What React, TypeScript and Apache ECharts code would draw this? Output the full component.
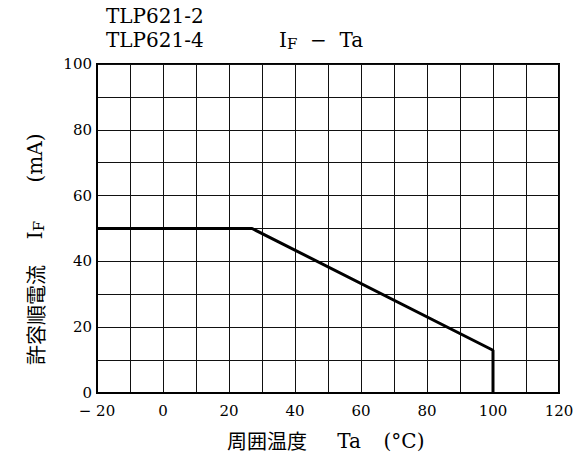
import React, { useEffect, useRef } from 'react';
import * as echarts from 'echarts';

const tempPoints = [-20, 27, 100, 100];
const currentPoints = [50, 50, 13, 0];
const titleLines = ['TLP621-2', 'TLP621-4'];
const xRange = [-20, 120];
const yRange = [0, 100];
const gridStep = 10;
const labelStep = 20;

const SERIF = '"DejaVu Serif", "Liberation Serif", serif';
const CJK = '"Noto Sans CJK JP", "Noto Sans", sans-serif';

export default function App() {
  const ref = useRef<HTMLDivElement>(null);
  useEffect(() => {
    if (!ref.current) return;
    const chart = echarts.init(ref.current, null, { renderer: 'svg' });
    const fmt = (v: number) => {
      if (v % labelStep !== 0) return '';
      return v < 0 ? '\u2212 ' + Math.abs(v) : String(v);
    };
    chart.setOption({
      animation: false,
      backgroundColor: '#fff',
      grid: {
        left: 97, top: 64, width: 462, height: 329,
        show: true, borderColor: '#000', borderWidth: 2, backgroundColor: 'transparent',
      },
      xAxis: {
        type: 'value', min: xRange[0], max: xRange[1], interval: gridStep,
        axisLine: { show: true, onZero: false, lineStyle: { color: '#000', width: 2 } },
        axisTick: { show: false },
        axisLabel: { formatter: fmt, color: '#000', fontFamily: SERIF, fontSize: 15, margin: 10 },
        splitLine: { show: true, lineStyle: { color: '#111', width: 1 } },
      },
      yAxis: {
        type: 'value', min: yRange[0], max: yRange[1], interval: gridStep,
        axisLine: { show: true, onZero: false, lineStyle: { color: '#000', width: 2 } },
        axisTick: { show: false },
        axisLabel: { formatter: fmt, color: '#000', fontFamily: SERIF, fontSize: 15, margin: 5 },
        splitLine: { show: true, lineStyle: { color: '#111', width: 1 } },
      },
      series: [{
        type: 'line',
        data: tempPoints.map((t, i) => [t, currentPoints[i]]),
        showSymbol: false,
        lineStyle: { color: '#000', width: 3 },
        z: 5,
      }],
      graphic: [
        { type: 'text', left: 106, top: 6, style: { text: titleLines[0], font: `20px ${SERIF}`, fill: '#000' } },
        { type: 'text', left: 106, top: 30, style: { text: titleLines[1], font: `20px ${SERIF}`, fill: '#000' } },
        {
          type: 'text', left: 279, top: 30,
          style: {
            text: 'I{sub|F}  \u2212  Ta', font: `20px ${SERIF}`, fill: '#000',
            rich: { sub: { fontSize: 15, fontFamily: SERIF, padding: [8, 0, 0, 0], fill: '#000' } },
          },
        },
        // y-axis label pieces (rotated)
        { type: 'text', x: 35, y: 315, rotation: Math.PI / 2, style: { text: '許容順電流', font: `20px ${CJK}`, fill: '#000', align: 'center', verticalAlign: 'middle' } },
        {
          type: 'text', x: 35, y: 230, rotation: Math.PI / 2,
          style: {
            text: 'I{sub|F}', font: `20px ${SERIF}`, fill: '#000', align: 'center', verticalAlign: 'middle',
            rich: { sub: { fontSize: 15, fontFamily: SERIF, padding: [8, 0, 0, 0], fill: '#000' } },
          },
        },
        { type: 'text', x: 35, y: 158, rotation: Math.PI / 2, style: { text: '(mA)', font: `20px ${SERIF}`, fill: '#000', align: 'center', verticalAlign: 'middle' } },
        // x-axis label pieces
        { type: 'text', x: 267, y: 440, style: { text: '周囲温度', font: `20px ${CJK}`, fill: '#000', align: 'center', verticalAlign: 'middle' } },
        { type: 'text', x: 349, y: 441, style: { text: 'Ta', font: `20px ${SERIF}`, fill: '#000', align: 'center', verticalAlign: 'middle' } },
        { type: 'text', x: 404, y: 441, style: { text: '(\u00b0C)', font: `20px ${SERIF}`, fill: '#000', align: 'center', verticalAlign: 'middle' } },
      ],
    });
    return () => chart.dispose();
  }, []);
  return <div ref={ref} style={{ position: 'absolute', left: 0, top: 0, width: 587, height: 463 }} />;
}
